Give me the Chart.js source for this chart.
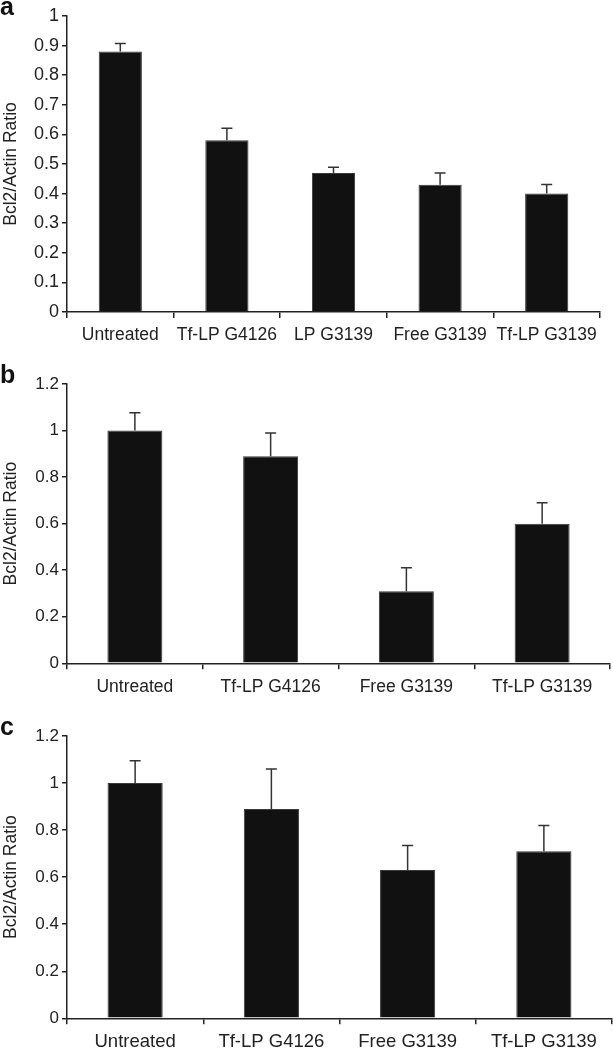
<!DOCTYPE html>
<html>
<head>
<meta charset="utf-8">
<script src="https://cdn.jsdelivr.net/npm/chart.js@4"></script>
<style>
  html, body { margin: 0; padding: 0; background: #fff; }
  body { width: 613px; height: 1050px; position: relative; overflow: hidden; font-family: "Liberation Sans", Arial, sans-serif; }
  .panel { position: absolute; left: 0; width: 613px; height: 350px; }
  .letter { position: absolute; left: 0; font: bold 25px/25px "Liberation Sans", Arial, sans-serif; color: #111; }
</style>
</head>
<body>
<div class="panel" style="top:0"><canvas id="ca" width="613" height="350"></canvas></div>
<div class="panel" style="top:350px"><canvas id="cb" width="613" height="350"></canvas></div>
<div class="panel" style="top:700px"><canvas id="cc" width="613" height="350"></canvas></div>
<div class="letter" style="top:-6px">a</div>
<div class="letter" style="top:362px">b</div>
<div class="letter" style="top:714px">c</div>
<script>
// ---- Data ----
const categoriesA = ['Untreated', 'Tf-LP G4126', 'LP G3139', 'Free G3139', 'Tf-LP G3139'];
const valuesA = [0.88, 0.58, 0.47, 0.43, 0.40];
const errorsA = [0.027, 0.041, 0.019, 0.040, 0.031];

const categoriesB = ['Untreated', 'Tf-LP G4126', 'Free G3139', 'Tf-LP G3139'];
const valuesB = [1.0, 0.89, 0.31, 0.60];
const errorsB = [0.077, 0.10, 0.10, 0.09];

const categoriesC = ['Untreated', 'Tf-LP G4126', 'Free G3139', 'Tf-LP G3139'];
const valuesC = [1.0, 0.89, 0.63, 0.71];
const errorsC = [0.095, 0.17, 0.105, 0.11];

const yTitle = 'Bcl2/Actin Ratio';

// ---- Error bar plugin (upper half only, with cap) ----
const errorBarPlugin = {
  id: 'errorBars',
  afterDatasetsDraw(chart, args, opts) {
    const ctx = chart.ctx;
    const meta = chart.getDatasetMeta(0);
    const ys = chart.scales.y;
    const errs = opts.errors || [];
    ctx.save();
    ctx.strokeStyle = '#333';
    ctx.lineWidth = 1.5;
    meta.data.forEach((bar, i) => {
      const v = chart.data.datasets[0].data[i];
      const x = bar.x;
      const y0 = ys.getPixelForValue(v);
      const y1 = ys.getPixelForValue(v + errs[i]);
      const half = (opts.capWidth || 11) / 2;
      ctx.beginPath();
      ctx.moveTo(x, y0);
      ctx.lineTo(x, y1);
      ctx.moveTo(x - half, y1);
      ctx.lineTo(x + half, y1);
      ctx.stroke();
    });
    ctx.restore();
  }
};

const FONT = '"Liberation Sans", Arial, sans-serif';

function makeChart(id, cats, vals, errs, cfg) {
  return new Chart(document.getElementById(id), {
    type: 'bar',
    data: {
      labels: cats,
      datasets: [{
        data: vals,
        backgroundColor: '#111111',
        borderColor: '#3a3a3a',
        borderWidth: 1,
        categoryPercentage: 0.405,
        barPercentage: 1.0
      }]
    },
    plugins: [errorBarPlugin],
    options: {
      responsive: false,
      animation: false,
      events: [],
      layout: { padding: { top: cfg.padTop, right: cfg.padRight, left: 0, bottom: 0 } },
      plugins: {
        legend: { display: false },
        tooltip: { enabled: false },
        errorBars: { errors: errs, capWidth: 11 }
      },
      scales: {
        x: {
          grid: { display: true, drawOnChartArea: false, drawTicks: true, tickLength: 6, color: '#222', lineWidth: 1.5 },
          border: { display: true, color: '#222', width: 1.5 },
          ticks: { color: '#222', padding: 7, font: { family: FONT, size: cfg.xFont }, maxRotation: 0, autoSkip: false },
          afterFit(scale) { scale.height = cfg.xHeight; }
        },
        y: {
          min: 0,
          max: cfg.yMax,
          grid: { display: true, drawOnChartArea: false, drawTicks: true, tickLength: 5, color: '#222', lineWidth: 1.5 },
          border: { display: true, color: '#222', width: 1.5 },
          ticks: {
            stepSize: cfg.step, color: '#222', padding: 3,
            font: { family: FONT, size: cfg.yFont },
            callback: (v) => String(parseFloat(Number(v).toFixed(2)))
          },
          title: { display: true, text: yTitle, color: '#222', padding: { top: 1, bottom: 0 }, font: { family: FONT, size: 17.5 } },
          afterFit(scale) { scale.width = 67; }
        }
      }
    }
  });
}

makeChart('ca', categoriesA, valuesA, errorsA, { padTop: 16, padRight: 13, xHeight: 38, yMax: 1.0, step: 0.1, xFont: 17.5, yFont: 18 });
makeChart('cb', categoriesB, valuesB, errorsB, { padTop: 34, padRight: 3, xHeight: 36.7, yMax: 1.2, step: 0.2, xFont: 17.5, yFont: 17 });
makeChart('cc', categoriesC, valuesC, errorsC, { padTop: 36, padRight: 1, xHeight: 31.7, yMax: 1.2, step: 0.2, xFont: 18.5, yFont: 17 });
</script>
</body>
</html>
